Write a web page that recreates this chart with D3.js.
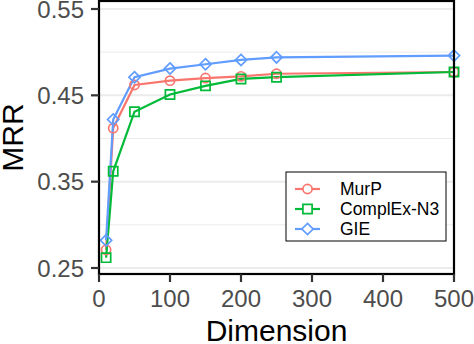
<!DOCTYPE html>
<meta charset="utf-8">
<script src="https://d3js.org/d3.v7.min.js"></script>
<style>
  body { margin: 0; background: #fff; }
  text { font-family: "Liberation Sans", Arial, sans-serif; }
</style>
<div id="my_dataviz"></div>
<script>

// data
var dims = [10, 20, 50, 100, 150, 200, 250, 500];
var murp = [0.271, 0.412, 0.462, 0.467, 0.470, 0.472, 0.475, 0.477];
var complex = [0.262, 0.362, 0.431, 0.451, 0.461, 0.469, 0.471, 0.477];
var gie = [0.282, 0.422, 0.471, 0.481, 0.486, 0.491, 0.494, 0.496];
var seriesNames = ["MurP", "ComplEx-N3", "GIE"];
var xTicks = [0, 100, 200, 300, 400, 500];
var yTicks = [0.25, 0.35, 0.45, 0.55];
var yMinor = [0.30, 0.40, 0.50];

var colors = ["#F8766D", "#00BA38", "#619CFF"];
var shapes = ["circle", "square", "diamond"];
var allSeries = [murp, complex, gie].map(function(vals, i) {
  return { name: seriesNames[i], color: colors[i], shape: shapes[i],
           values: vals.map(function(v, j) { return { x: dims[j], y: v } }) }
});

var W = 474, H = 344;
var panel = {left: 99, right: 454, top: 1, bottom: 274};

var svg = d3.select("#my_dataviz")
  .append("svg")
    .attr("width", W)
    .attr("height", H);

var x = d3.scaleLinear().domain([0, 500]).range([panel.left, panel.right]);
var y = d3.scaleLinear().domain([0.25, 0.55]).range([268, 9]);

// grid
svg.selectAll(".minor").data(yMinor).enter().append("line")
  .attr("x1", panel.left).attr("x2", panel.right)
  .attr("y1", function(d){ return y(d) }).attr("y2", function(d){ return y(d) })
  .attr("stroke", "#EBEBEB").attr("stroke-width", 1);
svg.selectAll(".major").data(yTicks).enter().append("line")
  .attr("x1", panel.left).attr("x2", panel.right)
  .attr("y1", function(d){ return y(d) }).attr("y2", function(d){ return y(d) })
  .attr("stroke", "#EBEBEB").attr("stroke-width", 2);

// lines
var line = d3.line().x(function(d){ return x(d.x) }).y(function(d){ return y(d.y) });
svg.selectAll(".series").data(allSeries).enter().append("path")
  .attr("d", function(d){ return line(d.values) })
  .attr("fill", "none")
  .attr("stroke", function(d){ return d.color })
  .attr("stroke-width", 2.2);

// point shapes
function shapePath(shape) {
  if (shape == "circle") return "M4.6,0A4.6,4.6,0,1,1,-4.6,0A4.6,4.6,0,1,1,4.6,0Z";
  if (shape == "square") return "M-4.6,-4.6H4.6V4.6H-4.6Z";
  return "M0,-5.6L5.6,0L0,5.6L-5.6,0Z";
}

allSeries.forEach(function(s) {
  svg.append("g").selectAll("path").data(s.values).enter().append("path")
    .attr("transform", function(d){ return "translate(" + x(d.x) + "," + y(d.y) + ")" })
    .attr("d", shapePath(s.shape))
    .attr("fill", "none")
    .attr("stroke", s.color)
    .attr("stroke-width", 1.7);
});

// panel border
svg.append("rect")
  .attr("x", panel.left).attr("y", panel.top)
  .attr("width", panel.right - panel.left).attr("height", panel.bottom - panel.top)
  .attr("fill", "none").attr("stroke", "#000").attr("stroke-width", 2.2);

// y axis ticks + labels
svg.selectAll(".ytick").data(yTicks).enter().append("line")
  .attr("x1", panel.left - 8).attr("x2", panel.left)
  .attr("y1", function(d){ return y(d) }).attr("y2", function(d){ return y(d) })
  .attr("stroke", "#333").attr("stroke-width", 2.2);
svg.selectAll(".ylab").data(yTicks).enter().append("text")
  .attr("x", 84).attr("y", function(d){ return y(d) })
  .attr("dy", "0.36em")
  .attr("text-anchor", "end")
  .style("font-size", "24px").attr("fill", "#4D4D4D")
  .text(function(d){ return d3.format(".2f")(d) });

// x axis ticks + labels
svg.selectAll(".xtick").data(xTicks).enter().append("line")
  .attr("x1", function(d){ return x(d) }).attr("x2", function(d){ return x(d) })
  .attr("y1", panel.bottom).attr("y2", panel.bottom + 8)
  .attr("stroke", "#333").attr("stroke-width", 2.2);
svg.selectAll(".xlab").data(xTicks).enter().append("text")
  .attr("x", function(d){ return x(d) }).attr("y", 307)
  .attr("text-anchor", "middle")
  .style("font-size", "24px").attr("fill", "#4D4D4D")
  .text(function(d){ return d });

// axis titles
svg.append("text")
  .attr("x", (panel.left + panel.right) / 2).attr("y", 341)
  .attr("text-anchor", "middle")
  .style("font-size", "30px").attr("fill", "#000")
  .text("Dimension");
svg.append("text")
  .attr("transform", "translate(23," + ((panel.top + panel.bottom) / 2) + ") rotate(-90)")
  .attr("text-anchor", "middle")
  .style("font-size", "30px").attr("fill", "#000")
  .text("MRR");

// legend
var legend = svg.append("g").attr("transform", "translate(286,172)");
legend.append("rect")
  .attr("width", 160).attr("height", 69)
  .attr("fill", "#fff").attr("stroke", "#000").attr("stroke-width", 1);
allSeries.forEach(function(s, i) {
  var ly = 17 + i * 20;
  legend.append("line")
    .attr("x1", 9).attr("x2", 34).attr("y1", ly).attr("y2", ly)
    .attr("stroke", s.color).attr("stroke-width", 2.2);
  legend.append("path")
    .attr("transform", "translate(21.5," + ly + ")")
    .attr("d", shapePath(s.shape))
    .attr("fill", "#fff")
    .attr("stroke", s.color).attr("stroke-width", 1.7);
  legend.append("text")
    .attr("x", 54).attr("y", ly).attr("dy", "0.36em")
    .style("font-size", "17.5px").attr("fill", "#000")
    .text(s.name);
});
</script>
